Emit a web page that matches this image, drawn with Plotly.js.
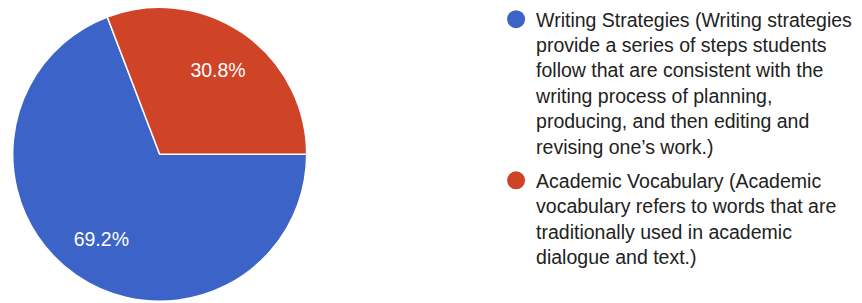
<!DOCTYPE html>
<html><head><meta charset="utf-8">
<script src="https://cdn.plot.ly/plotly-3.0.1.min.js"></script>
<style>html,body{margin:0;padding:0;background:#fff}#chart{width:862px;height:303px}</style>
</head><body><div id="chart"></div>
<script>
const labels = [
  "Writing Strategies (Writing strategies<br>provide a series of steps students<br>follow that are consistent with the<br>writing process of planning,<br>producing, and then editing and<br>revising one’s work.)",
  "Academic Vocabulary (Academic<br>vocabulary refers to words that are<br>traditionally used in academic<br>dialogue and text.)"
];
const values = [69.2, 30.8];
const colors = ["#3c64c8", "#cf4326"];

const pieDomain = {x: [0.0147, 0.3558], y: [0.0056, 0.9759]};

const pie = {
  type: "pie",
  labels: labels,
  values: values,
  sort: false,
  direction: "clockwise",
  rotation: 90,
  marker: {colors: colors, line: {color: "#ffffff", width: 1.5}},
  textinfo: "none",
  showlegend: false,
  hoverinfo: "label+percent",
  domain: pieDomain
};

// transparent ring used only to place the percentage labels further out
const labelRing = {
  type: "pie",
  labels: labels,
  values: values,
  sort: false,
  direction: "clockwise",
  rotation: 90,
  hole: 0.4,
  marker: {colors: ["rgba(0,0,0,0)", "rgba(0,0,0,0)"], line: {width: 0}},
  textinfo: "percent",
  texttemplate: "%{percent:.1%}",
  textposition: "inside",
  insidetextorientation: "horizontal",
  insidetextfont: {color: "#ffffff", size: 19.5, family: "Liberation Sans, Arial, sans-serif"},
  showlegend: false,
  hoverinfo: "skip",
  domain: pieDomain
};

const legendTraces = labels.map((lab, i) => ({
  type: "scatter",
  mode: "markers",
  x: [null], y: [null],
  name: lab,
  legendgroup: "g" + i,
  marker: {color: colors[i], size: 16, symbol: "circle", line: {color: colors[i], width: 2}},
  showlegend: true,
  hoverinfo: "skip"
}));

const layout = {
  width: 862, height: 303,
  margin: {l: 0, r: 0, t: 0, b: 0},
  paper_bgcolor: "#ffffff",
  plot_bgcolor: "rgba(0,0,0,0)",
  xaxis: {visible: false, domain: [0.9, 1]},
  yaxis: {visible: false, domain: [0.9, 1]},
  showlegend: true,
  legend: {
    x: 0.5755, xanchor: "left",
    y: 1.0, yanchor: "top",
    valign: "top",
    font: {family: "Liberation Sans, Arial, sans-serif", size: 19.5, color: "#222222"},
    bgcolor: "rgba(0,0,0,0)",
    tracegroupgap: 6
  }
};

Plotly.newPlot("chart", [pie, labelRing].concat(legendTraces), layout, {displayModeBar: false, staticPlot: true});
</script>
</body></html>
